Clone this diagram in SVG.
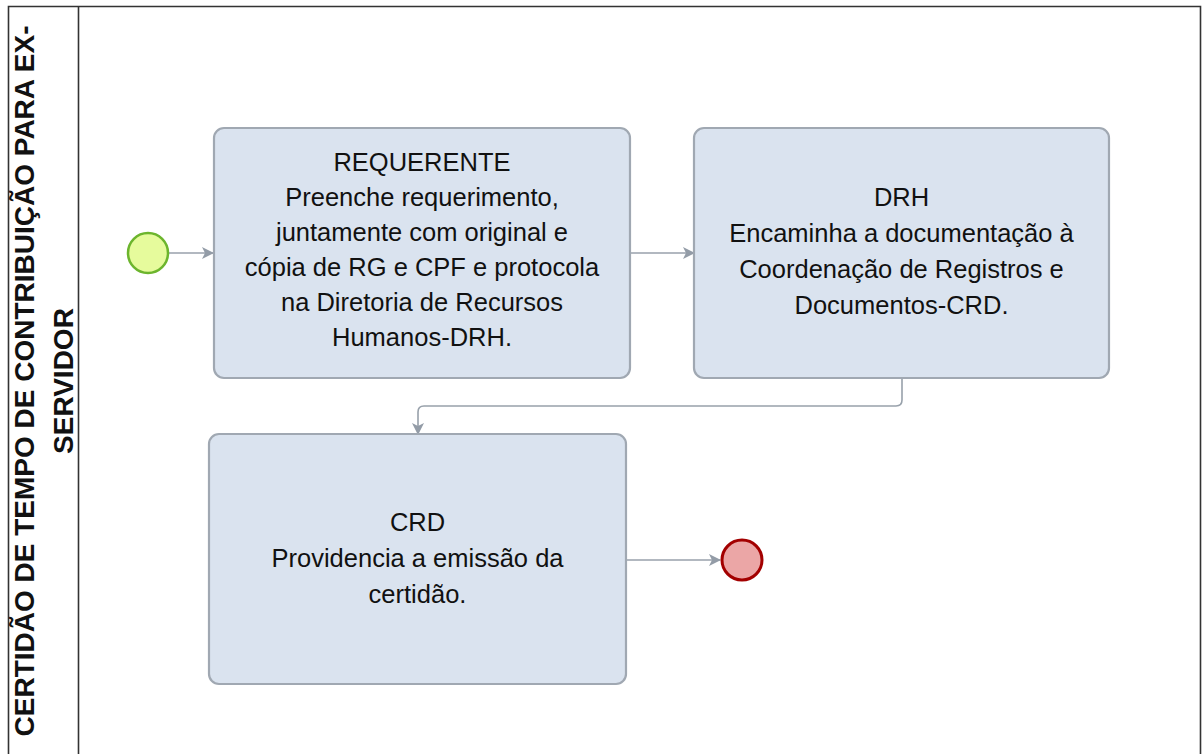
<svg xmlns="http://www.w3.org/2000/svg" width="1202" height="754" viewBox="0 0 1202 754">
<defs>
<marker id="arr" viewBox="0 0 12 12" refX="11" refY="6" markerWidth="12" markerHeight="12" markerUnits="userSpaceOnUse" orient="auto">
<path d="M0,0 L12,6 L0,12 L3,6 z" fill="#939ca7"/>
</marker>
<style>
.pool{fill:none;stroke:#333;stroke-width:1.6}
.task{fill:#dae3ef;stroke:#a0a8b2;stroke-width:2.2}
.lbl{font-family:"Liberation Sans",Arial,sans-serif;font-size:25.5px;fill:#111;text-anchor:middle}
.title{font-family:"Liberation Sans",Arial,sans-serif;font-size:28px;font-weight:bold;fill:#111;text-anchor:middle}
.conn{fill:none;stroke:#98a1ab;stroke-width:1.6;marker-end:url(#arr)}
</style>
</defs>
<rect width="1202" height="754" fill="#fff"/>
<g id="pool">
<path class="pool" d="M8.5,760 L8.5,6.5 L1200.5,6.5 L1200.5,760"/>
<line class="pool" x1="78.5" y1="6.5" x2="78.5" y2="760"/>
<text class="title" transform="translate(34,381) rotate(-90)">CERTIDÃO DE TEMPO DE CONTRIBUIÇÃO PARA EX-</text>
<text class="title" transform="translate(72.5,381) rotate(-90)">SERVIDOR</text>
</g>
<g id="connectors">
<line class="conn" x1="169" y1="253" x2="213" y2="253"/>
<line class="conn" x1="630" y1="253" x2="694" y2="253"/>
<path class="conn" d="M902,378 L902,400 Q902,406 896,406 L424,406 Q418,406 418,412 L418,434"/>
<line class="conn" x1="626" y1="560" x2="720" y2="560"/>
</g>
<g id="start">
<circle cx="148" cy="253" r="20" fill="#e6fb9c" stroke="#6cb52d" stroke-width="2.5"/>
</g>
<g id="task-requerente">
<rect class="task" x="214" y="128" width="416" height="250" rx="10"/>
<text class="lbl" x="422" y="171">REQUERENTE</text>
<text class="lbl" x="422" y="206">Preenche requerimento,</text>
<text class="lbl" x="422" y="241">juntamente com original e</text>
<text class="lbl" x="422" y="276">cópia de RG e CPF e protocola</text>
<text class="lbl" x="422" y="311">na Diretoria de Recursos</text>
<text class="lbl" x="422" y="346">Humanos-DRH.</text>
</g>
<g id="task-drh">
<rect class="task" x="694" y="128" width="415" height="250" rx="10"/>
<text class="lbl" x="901.5" y="206">DRH</text>
<text class="lbl" x="901.5" y="242">Encaminha a documentação à</text>
<text class="lbl" x="901.5" y="278">Coordenação de Registros e</text>
<text class="lbl" x="901.5" y="314">Documentos-CRD.</text>
</g>
<g id="task-crd">
<rect class="task" x="209" y="434" width="417" height="250" rx="10"/>
<text class="lbl" x="417.5" y="531">CRD</text>
<text class="lbl" x="417.5" y="567">Providencia a emissão da</text>
<text class="lbl" x="417.5" y="603">certidão.</text>
</g>
<g id="end">
<circle cx="742" cy="560" r="20" fill="#eba6a6" stroke="#a30000" stroke-width="3"/>
</g>
</svg>
